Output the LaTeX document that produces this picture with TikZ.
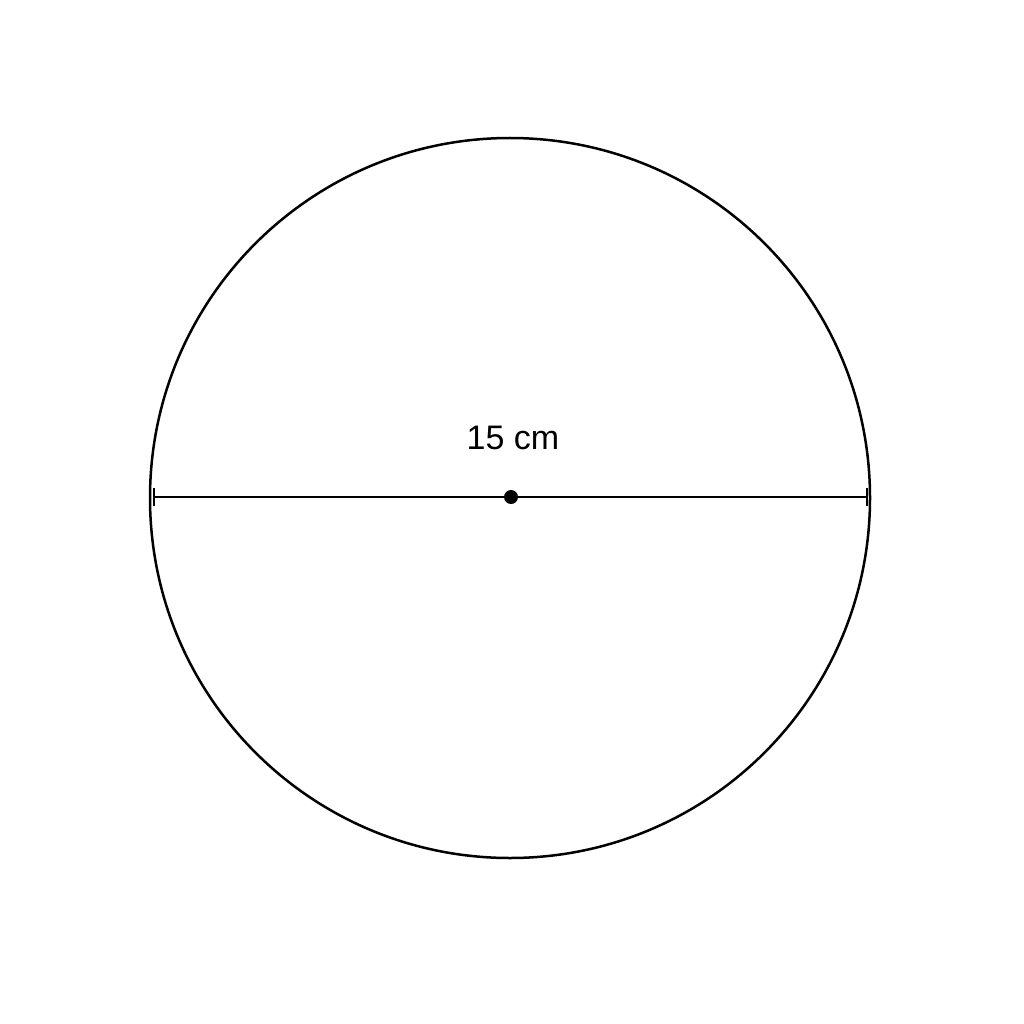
\documentclass[tikz,border=0pt]{standalone}
\usepackage{fontspec}
\setmainfont{Liberation Sans}
\begin{document}
\begin{tikzpicture}[x=1pt,y=-1pt,
  outline/.style={draw=black,line width=2.5pt},
  dim/.style={draw=black,line width=2.3pt},
  label/.style={font=\fontsize{34}{40}\selectfont,inner sep=0pt}]
\useasboundingbox[fill=white] (0,0) rectangle (1024,1024);
\draw[outline] (510,498) circle[radius=360];
\coordinate (L) at (154,497);
\coordinate (R) at (867,497);
\node[circle,fill=black,inner sep=0pt,minimum size=14pt] (C) at (511,497) {};
\draw[dim] (L) -- (R);
\draw[dim] ([yshift=-9pt]L) -- ([yshift=9pt]L);
\draw[dim] ([yshift=-9pt]R) -- ([yshift=9pt]R);
\node[label] (T) at (513,438) {15 cm};
\end{tikzpicture}
\end{document}
